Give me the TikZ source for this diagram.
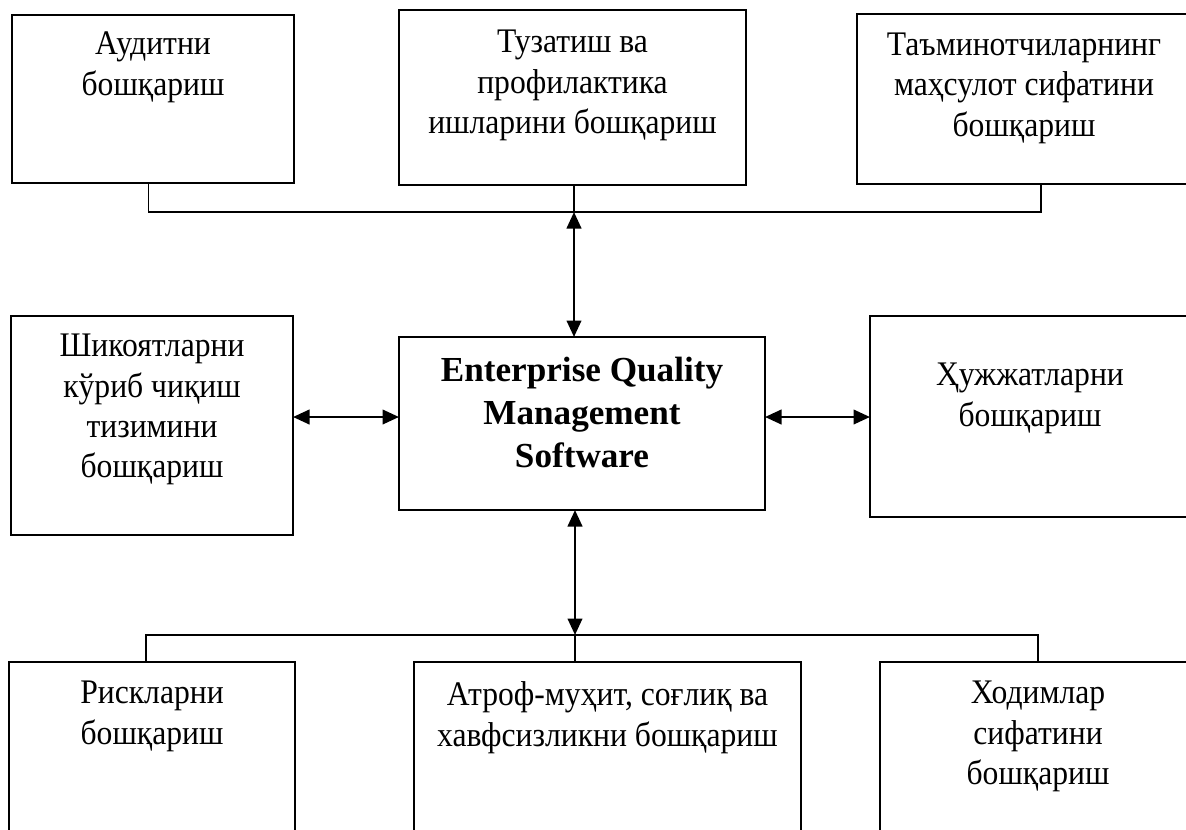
\documentclass[tikz,border=0pt]{standalone}
\usepackage{fontspec}
\setmainfont{Liberation Serif}
\usetikzlibrary{positioning,arrows.meta}

\tikzset{
  box/.style={rectangle, draw=black, line width=0.8pt, inner sep=0pt, outer sep=0pt, anchor=north west},
  txt/.style={inner sep=0pt, outer sep=0pt, anchor=north, align=center},
  lbl/.style={txt, font=\fontsize{18}{21.1}\selectfont, yscale=1.09, transform shape},
  hub/.style={txt, font=\fontsize{20}{24.5}\selectfont\bfseries},
  link/.style={draw=black, line width=0.7pt},
  twoway/.style={draw=black, line width=1.4pt, {Triangle[length=3.3mm,width=2.9mm]}-{Triangle[length=3.3mm,width=2.9mm]}}
}

\begin{document}
\begin{tikzpicture}[x=0.2mm, y=-0.2mm]
  \useasboundingbox (0,0) rectangle (1186,829);
  \clip (0,0) rectangle (1186,829);

  % top row
  \node[box, minimum width=282*0.2mm, minimum height=168*0.2mm] (audit) at (12,15) {};
  \node[box, minimum width=347*0.2mm, minimum height=175*0.2mm] (repair) at (399,10) {};
  \node[box, minimum width=334*0.2mm, minimum height=170*0.2mm] (supply) at (857,14) {};
  \node[lbl, below=3.4mm of audit.north] (auditT) {Аудитни\\бошқариш};
  \node[lbl, below=4mm of repair.north] (repairT) {Тузатиш ва\\профилактика\\ишларини бошқариш};
  \node[lbl, below=3.8mm of supply.north] (supplyT) {Таъминотчиларнинг\\маҳсулот сифатини\\бошқариш};

  % middle row
  \node[box, minimum width=282*0.2mm, minimum height=219*0.2mm] (complaint) at (11,316) {};
  \node[box, minimum width=366*0.2mm, minimum height=173*0.2mm] (core) at (399,337) {};
  \node[box, minimum width=320*0.2mm, minimum height=201*0.2mm] (docs) at (870,316) {};
  \node[lbl, below=3.6mm of complaint.north] (complaintT) {Шикоятларни\\кўриб чиқиш\\тизимини\\бошқариш};
  \node[hub, below=4mm of core.north] (coreT) {Enterprise Quality\\Management\\Software};
  \node[lbl, below=9.4mm of docs.north] (docsT) {Ҳужжатларни\\бошқариш};

  % bottom row
  \node[box, minimum width=286*0.2mm, minimum height=208*0.2mm] (risk) at (9,662) {};
  \node[box, minimum width=387*0.2mm, minimum height=208*0.2mm] (env) at (414,662) {};
  \node[box, minimum width=316*0.2mm, minimum height=208*0.2mm] (staff) at (880,662) {};
  \node[lbl, below=3.8mm of risk.north] (riskT) {Рискларни\\бошқариш};
  \node[lbl, below=4mm of env.north] (envT) {Атроф-муҳит, соғлиқ ва\\хавфсизликни бошқариш};
  \node[lbl, below=3.8mm of staff.north] (staffT) {Ходимлар\\сифатини\\бошқариш};

  \coordinate (topjoin) at (574,212);
  \coordinate (botjoin) at (575,635);
  \coordinate (midrow) at (0,417);

  \draw[link] ([xshift=-0.9mm]audit.south) |- (topjoin) -| ([xshift=3.4mm]supply.south);
  \draw[link] (repair.south -| topjoin) -- (topjoin);
  \draw[twoway] (topjoin) -- (topjoin |- core.north);
  \draw[twoway] (complaint.east |- midrow) -- (core.west |- midrow);
  \draw[twoway] (core.east |- midrow) -- (docs.west |- midrow);
  \draw[twoway] (core.south -| botjoin) -- (botjoin);
  \draw[link] ([xshift=-1.2mm]risk.north) |- (botjoin) -| (staff.north);
  \draw[link] (botjoin) -- (botjoin |- env.north);
\end{tikzpicture}
\end{document}
